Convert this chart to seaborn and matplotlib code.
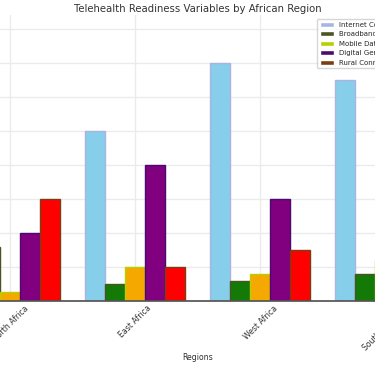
import pandas as pd
import matplotlib.pyplot as plt
from matplotlib.patches import Patch
import seaborn as sns

# data
regions = ['North Africa', 'East Africa', 'West Africa', 'Southern Africa']
variables = ['Internet Connectivity', 'Broadband Access', 'Mobile Data Cost',
             'Digital Gender Gap', 'Rural Connectivity']
internet = [80, 50, 70, 65]
broadband = [16, 5, 6, 8]
mobile = [2.5, 10, 8, 12]
digital = [20, 40, 30, 25]
rural = [30, 10, 15, 20]

fill_colors = ['#87CEEB', '#137A08', '#F5A800', '#800080', '#FF0000']
edge_colors = ['#A9B4E2', '#4B5320', '#B5D100', '#4B0A6E', '#7A3E12']

df = pd.DataFrame({'Region': regions, variables[0]: internet, variables[1]: broadband,
                   variables[2]: mobile, variables[3]: digital, variables[4]: rural})
long_df = df.melt(id_vars='Region', var_name='Variable', value_name='Value')

sns.set_theme(style='whitegrid')
plt.rcParams['font.family'] = ['DejaVu Sans']

fig = plt.figure(figsize=(3.75, 3.66), dpi=100)
# the reference shows only the middle of a wider axes
ax = fig.add_axes([-0.1387, 0.1776, 1.3333, 0.7814])

sns.barplot(data=long_df, x='Region', y='Value', hue='Variable',
            palette=fill_colors, saturation=1, ax=ax, legend=False)

n = len(regions) * len(variables)
for i, bar in enumerate(ax.patches[:n]):
    bar.set_edgecolor(edge_colors[i // len(regions)])
    bar.set_linewidth(1)

ax.set_ylim(0, 84)
ax.set_title('Telehealth Readiness Variables by African Region', fontsize=7.3,
             color='#333333', pad=2)
ax.set_xlabel('Regions', fontsize=5.6, color='#333333', labelpad=0)
ax.set_ylabel('Value', fontsize=5.6)
ax.tick_params(axis='x', labelrotation=45, labelsize=5.6, colors='#333333',
               length=0, pad=2)
ax.tick_params(axis='y', labelsize=5.6, length=0)
ax.spines['bottom'].set_color('#555555')
ax.spines['top'].set_visible(False)
ax.grid(True, color='#ebebeb')

handles = [Patch(facecolor=c, label=v) for c, v in zip(edge_colors, variables)]
ax.legend(handles=handles, loc='upper left', bbox_to_anchor=(0.738, 0.986),
          fontsize=5, frameon=True, borderaxespad=0)

plt.savefig('out.png', dpi=100)
